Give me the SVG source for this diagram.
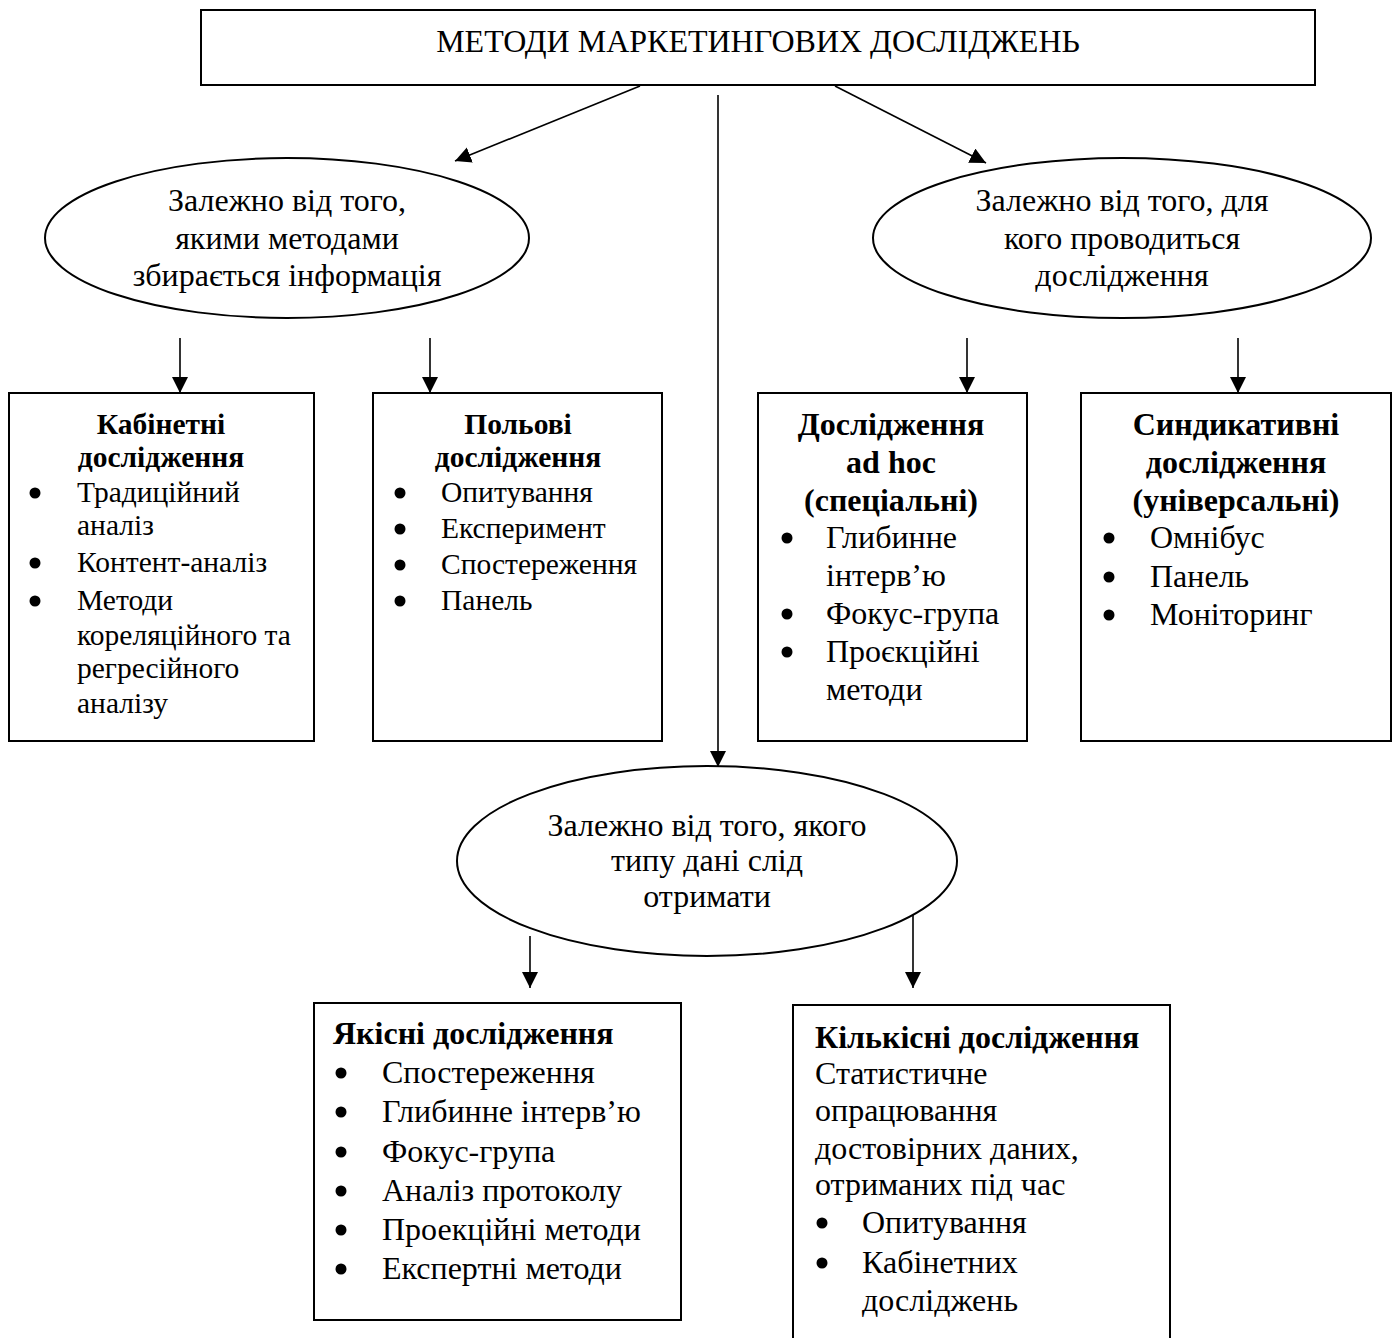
<svg xmlns="http://www.w3.org/2000/svg" width="1399" height="1338" viewBox="0 0 1399 1338">
<defs>
<marker id="ah" markerUnits="userSpaceOnUse" markerWidth="16" markerHeight="20" viewBox="0 0 16 20" refX="16" refY="8" orient="auto">
<path d="M0,0 L16,8 L0,16 Z" fill="#000"/>
</marker>
<style>
.box{fill:#fff;stroke:#000;stroke-width:2}
.ell{fill:#fff;stroke:#000;stroke-width:2}
.t{font-family:"Liberation Serif","Times New Roman",serif;font-size:32px;fill:#000}
.s{font-size:29.5px}
.c{text-anchor:middle}
.b{font-weight:bold}
.bul{fill:#000}
.conn line{stroke:#000;stroke-width:1.6;marker-end:url(#ah)}
</style>
</defs>
<rect width="1399" height="1338" fill="#fff"/>

<g id="connectors" class="conn">
<line x1="640" y1="86" x2="455" y2="161"/>
<line x1="718" y1="95" x2="718" y2="767"/>
<line x1="835" y1="86" x2="986" y2="163"/>
<line x1="180" y1="338" x2="180" y2="393"/>
<line x1="430" y1="338" x2="430" y2="393"/>
<line x1="967" y1="338" x2="967" y2="393"/>
<line x1="1238" y1="338" x2="1238" y2="393"/>
<line x1="530" y1="936" x2="530" y2="988"/>
<line x1="913" y1="910" x2="913" y2="988"/>
</g>

<g id="top">
<rect class="box" x="201" y="10" width="1114" height="75"/>
<text class="t c" x="758" y="52">МЕТОДИ МАРКЕТИНГОВИХ ДОСЛІДЖЕНЬ</text>
</g>

<g id="ell-left">
<ellipse class="ell" cx="287" cy="238" rx="242" ry="80"/>
<text class="t c" x="287" y="211">Залежно від того,</text>
<text class="t c" x="287" y="249">якими методами</text>
<text class="t c" x="287" y="286">збирається інформація</text>
</g>

<g id="ell-right">
<ellipse class="ell" cx="1122" cy="238" rx="249" ry="80"/>
<text class="t c" x="1122" y="211">Залежно від того, для</text>
<text class="t c" x="1122" y="249">кого проводиться</text>
<text class="t c" x="1122" y="286">дослідження</text>
</g>

<g id="ell-bottom">
<ellipse class="ell" cx="707" cy="861" rx="250" ry="95"/>
<text class="t c" x="707" y="836">Залежно від того, якого</text>
<text class="t c" x="707" y="871">типу дані слід</text>
<text class="t c" x="707" y="907">отримати</text>
</g>

<g id="box-cab">
<rect class="box" x="9" y="393" width="305" height="348"/>
<text class="t s c b" x="161" y="434">Кабінетні</text>
<text class="t s c b" x="161" y="467">дослідження</text>
<circle class="bul" cx="35" cy="493" r="5.5"/><text class="t s" x="77" y="502">Традиційний</text>
<text class="t s" x="77" y="535">аналіз</text>
<circle class="bul" cx="35" cy="563" r="5.5"/><text class="t s" x="77" y="572">Контент-аналіз</text>
<circle class="bul" cx="35" cy="601" r="5.5"/><text class="t s" x="77" y="610">Методи</text>
<text class="t s" x="77" y="645">кореляційного та</text>
<text class="t s" x="77" y="678">регресійного</text>
<text class="t s" x="77" y="713">аналізу</text>
</g>

<g id="box-field">
<rect class="box" x="373" y="393" width="289" height="348"/>
<text class="t s c b" x="518" y="434">Польові</text>
<text class="t s c b" x="518" y="467">дослідження</text>
<circle class="bul" cx="400" cy="493" r="5.5"/><text class="t s" x="441" y="502">Опитування</text>
<circle class="bul" cx="400" cy="529" r="5.5"/><text class="t s" x="441" y="538">Експеримент</text>
<circle class="bul" cx="400" cy="565" r="5.5"/><text class="t s" x="441" y="574">Спостереження</text>
<circle class="bul" cx="400" cy="601" r="5.5"/><text class="t s" x="441" y="610">Панель</text>
</g>

<g id="box-adhoc">
<rect class="box" x="758" y="393" width="269" height="348"/>
<text class="t c b" x="891" y="435">Дослідження</text>
<text class="t c b" x="891" y="473">ad hoc</text>
<text class="t c b" x="891" y="511">(спеціальні)</text>
<circle class="bul" cx="787" cy="538" r="5.5"/><text class="t" x="826" y="548">Глибинне</text>
<text class="t" x="826" y="586">інтерв’ю</text>
<circle class="bul" cx="787" cy="614" r="5.5"/><text class="t" x="826" y="624">Фокус-група</text>
<circle class="bul" cx="787" cy="652" r="5.5"/><text class="t" x="826" y="662">Проєкційні</text>
<text class="t" x="826" y="700">методи</text>
</g>

<g id="box-synd">
<rect class="box" x="1081" y="393" width="310" height="348"/>
<text class="t c b" x="1236" y="435">Синдикативні</text>
<text class="t c b" x="1236" y="473">дослідження</text>
<text class="t c b" x="1236" y="511">(універсальні)</text>
<circle class="bul" cx="1109" cy="538" r="5.5"/><text class="t" x="1150" y="548">Омнібус</text>
<circle class="bul" cx="1109" cy="577" r="5.5"/><text class="t" x="1150" y="587">Панель</text>
<circle class="bul" cx="1109" cy="615" r="5.5"/><text class="t" x="1150" y="625">Моніторинг</text>
</g>

<g id="box-qual">
<rect class="box" x="314" y="1003" width="367" height="317"/>
<text class="t b" x="333" y="1044">Якісні дослідження</text>
<circle class="bul" cx="341" cy="1073" r="5.5"/><text class="t" x="382" y="1083">Спостереження</text>
<circle class="bul" cx="341" cy="1112" r="5.5"/><text class="t" x="382" y="1122">Глибинне інтерв’ю</text>
<circle class="bul" cx="341" cy="1152" r="5.5"/><text class="t" x="382" y="1162">Фокус-група</text>
<circle class="bul" cx="341" cy="1191" r="5.5"/><text class="t" x="382" y="1201">Аналіз протоколу</text>
<circle class="bul" cx="341" cy="1230" r="5.5"/><text class="t" x="382" y="1240">Проекційні методи</text>
<circle class="bul" cx="341" cy="1269" r="5.5"/><text class="t" x="382" y="1279">Експертні методи</text>
</g>

<g id="box-quant">
<rect class="box" x="793" y="1005" width="377" height="345"/>
<text class="t b" x="815" y="1048">Кількісні дослідження</text>
<text class="t" x="815" y="1084">Статистичне</text>
<text class="t" x="815" y="1121">опрацювання</text>
<text class="t" x="815" y="1159">достовірних даних,</text>
<text class="t" x="815" y="1195">отриманих під час</text>
<circle class="bul" cx="822" cy="1223" r="5.5"/><text class="t" x="862" y="1233">Опитування</text>
<circle class="bul" cx="822" cy="1263" r="5.5"/><text class="t" x="862" y="1273">Кабінетних</text>
<text class="t" x="862" y="1311">досліджень</text>
</g>
</svg>
